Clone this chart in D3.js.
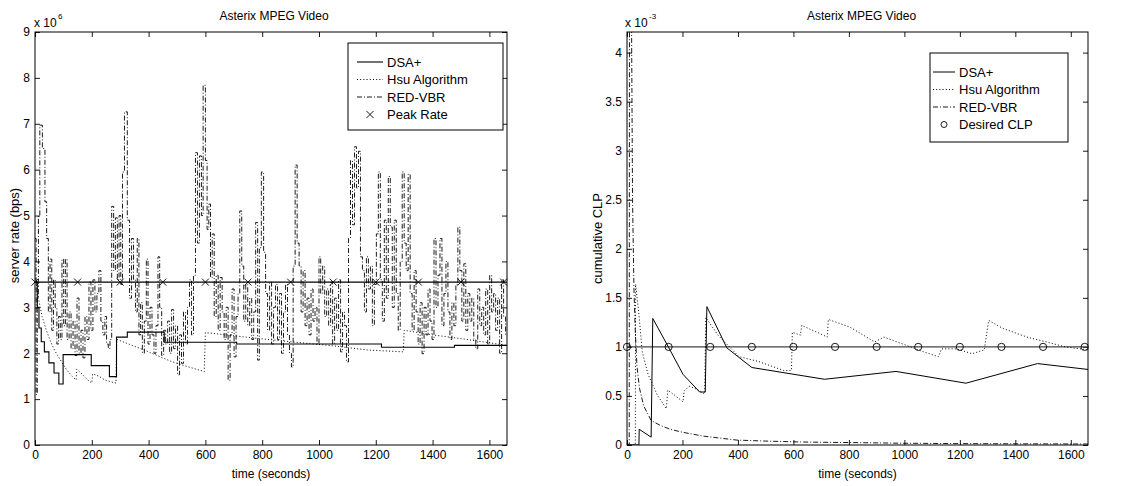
<!DOCTYPE html>
<html><head><meta charset="utf-8">
<script src="https://cdn.jsdelivr.net/npm/d3@7"></script>
<style>
body{margin:0;background:#fff;}
svg text{font-family:"Liberation Sans", Arial, Helvetica, sans-serif; fill:#000;}
</style></head><body>
<svg id="c" width="1140" height="486"></svg>
<script>
// ---------- data ----------
const T_MAX = 1662;
const timeTicks = [0,200,400,600,800,1000,1200,1400,1600];
const rateTicks = [0,1,2,3,4,5,6,7,8,9];
const clpTicks = [0,0.5,1,1.5,2,2.5,3,3.5,4];
const clpTickLabels = ["0","0.5","1","1.5","2","2.5","3","3.5","4"];

// Left panel: server rate, units of 1e6 bps
const dsaRateT = [0,8,14,22,33,49,67,84,99,198,262,287,325,455,710,1220,1477];
const dsaRateV = [3.55,3.0,2.55,2.25,2.03,1.79,1.57,1.33,1.97,1.73,1.49,2.35,2.46,2.24,2.2,2.13,2.17];

const hsuRateT = [0,12,25,40,55,70,90,110,130,145,147,165,185,200,203,225,245,265,285,288,330,380,430,480,530,580,596,600,700,790,900,1052,1170,1297,1300,1400,1521,1662];
const hsuRateV = [3.7,3.2,2.8,2.5,2.25,2.05,1.85,1.65,1.5,1.42,1.65,1.55,1.42,1.35,1.55,1.5,1.42,1.38,1.35,2.3,2.2,2.08,1.95,1.82,1.72,1.63,1.6,2.45,2.38,2.32,2.25,2.16,2.07,2.03,2.5,2.4,2.3,2.17];

const redRateT = [0,4,8,12,17,26,35,41,47,53,59,65,71,77,83,89,95,101,107,113,120,127,134,141,148,155,162,169,176,183,190,197,204,211,218,225,232,239,246,252,258,264,270,277,283,290,296,302,308,315,325,333,340,347,354,360,366,372,378,385,392,398,405,412,419,426,433,439,446,453,460,467,474,481,488,495,502,509,516,523,530,537,544,551,558,565,572,579,586,592,600,606,612,618,624,631,638,645,652,659,666,673,680,687,694,701,708,715,721,728,735,742,749,756,763,770,777,784,790,797,805,812,819,826,833,840,847,854,861,868,875,882,889,896,903,909,916,923,930,937,944,951,958,965,972,979,986,993,1000,1006,1013,1020,1027,1034,1041,1048,1055,1062,1069,1076,1083,1090,1097,1104,1111,1118,1125,1132,1139,1146,1153,1160,1167,1174,1181,1188,1195,1202,1209,1216,1223,1230,1237,1244,1251,1258,1265,1272,1279,1286,1293,1300,1307,1314,1321,1328,1335,1342,1349,1356,1363,1370,1377,1384,1391,1398,1405,1412,1419,1426,1433,1440,1447,1454,1461,1468,1475,1482,1489,1496,1503,1510,1517,1524,1531,1538,1545,1552,1559,1566,1573,1580,1587,1594,1601,1608,1615,1622,1629,1636,1643,1650,1657];
const redRateV = [4.5,1.1,3.2,5.0,6.97,6.46,5.3,4.5,2.9,4.05,2.5,3.6,3.0,2.2,2.8,2.3,4.05,2.6,4.05,2.3,2.9,2.1,2.7,1.95,3.2,2.0,2.5,1.9,2.8,2.3,3.55,2.5,3.6,2.9,3.3,3.8,2.7,2.4,2.8,2.2,2.1,2.3,5.2,3.8,4.95,3.6,5.0,3.5,5.95,7.26,4.9,3.2,4.5,3.6,2.9,4.5,2.4,3.1,2.0,2.7,4.05,2.2,3.0,2.4,2.0,2.6,4.1,3.0,1.95,2.5,2.2,2.7,2.0,2.95,2.1,2.6,1.53,2.4,1.78,2.9,2.2,3.0,3.6,2.4,3.7,6.37,4.4,6.3,5.0,7.84,6.2,4.7,5.25,3.65,4.6,2.8,3.7,2.5,3.65,2.9,2.3,3.0,1.41,2.4,3.4,1.92,2.8,3.3,5.1,3.9,2.7,3.5,2.6,3.2,2.3,2.9,4.85,1.85,4.3,5.95,4.2,3.3,2.5,3.55,2.2,3.0,3.5,2.3,3.3,2.0,2.9,3.5,2.4,2.0,1.7,3.9,6.1,4.4,3.9,2.9,3.8,2.6,3.2,2.4,3.4,2.7,3.0,2.2,4.1,3.3,3.9,2.8,3.4,2.6,3.55,2.2,3.2,2.5,3.6,2.03,2.9,2.6,1.81,4.5,6.2,4.8,6.5,5.6,6.4,4.1,3.8,2.9,4.1,3.4,3.9,2.6,3.5,4.6,5.95,3.6,2.7,4.9,3.2,5.85,4.75,3.0,4.9,3.3,2.5,4.0,5.95,4.4,3.8,5.9,3.3,2.5,3.8,2.9,2.2,3.1,1.99,3.0,2.4,3.4,2.7,2.3,4.5,3.0,3.7,4.5,2.6,3.3,4.0,2.9,2.3,3.1,2.6,3.5,4.75,3.8,2.7,3.95,2.5,3.3,2.7,3.2,2.3,2.1,3.4,2.6,3.0,2.4,3.4,2.2,3.7,2.9,3.3,2.5,3.2,2.0,3.6,2.8,2.4];

const peakRate = 3.55;
const peakMarkT = [0,150,300,450,600,750,900,1050,1200,1350,1500,1650];

// Right panel: cumulative CLP, units of 1e-3
const dsaClpT = [0,43,44,87,93,151,202,262,282,288,360,450,712,970,1222,1480,1662];
const dsaClpV = [0,0,0.16,0.08,1.29,0.99,0.72,0.54,0.54,1.41,0.99,0.79,0.67,0.75,0.63,0.83,0.77];

const hsuClpT = [0,30,31,44,55,76,109,142,147,175,202,206,224,250,280,284,328,404,476,564,593,596,625,630,660,700,722,726,805,893,926,1003,1069,1123,1134,1189,1244,1288,1304,1354,1442,1513,1580,1662];
const hsuClpV = [0,0,1.64,1.3,0.95,0.72,0.51,0.37,0.56,0.5,0.44,0.55,0.6,0.57,0.52,1.3,1.12,0.9,0.85,0.76,0.76,1.15,1.12,1.22,1.18,1.13,1.1,1.28,1.2,1.05,1.1,1.02,0.95,0.9,0.98,0.98,0.93,0.97,1.27,1.19,1.1,1.05,1.0,0.97];

const redClpT = [0,8,9,16,20,25,30,36,45,60,87,120,156,200,276,396,500,636,800,996,1200,1400,1662];
const redClpV = [0,0,4.5,4.5,2.5,1.6,1.15,0.8,0.58,0.4,0.25,0.2,0.16,0.13,0.09,0.05,0.04,0.03,0.025,0.018,0.014,0.012,0.01];

const desiredClp = 1.0;
const desiredMarkT = [0,150,300,450,600,750,900,1050,1200,1350,1500,1650];

// ---------- drawing ----------
const svg = d3.select("#c");
const FS = 12;
const DOT = "1,2.2";
const DASHDOT = "5,2,1,2";

function toPts(T, V, extendTo) {
  const p = T.map((t, i) => [t, V[i]]);
  if (extendTo !== undefined) p.push([extendTo, V[V.length - 1]]);
  return p;
}

function panel(id, box, yMax, yTicks, yLabels) {
  const x = d3.scaleLinear().domain([0, T_MAX]).range([box.x0, box.x1]);
  const y = d3.scaleLinear().domain([0, yMax]).range([box.y1, box.y0]);
  svg.append("clipPath").attr("id", id).append("rect")
    .attr("x", box.x0).attr("y", box.y0).attr("width", box.x1 - box.x0).attr("height", box.y1 - box.y0);
  const g = svg.append("g");
  const fmt = d => yLabels ? yLabels[yTicks.indexOf(d)] : d;
  const ax = [
    [d3.axisBottom(x).tickValues(timeTicks).tickFormat(d3.format("d")), `translate(0,${box.y1})`],
    [d3.axisTop(x).tickValues(timeTicks).tickFormat(""), `translate(0,${box.y0})`],
    [d3.axisLeft(y).tickValues(yTicks).tickFormat(fmt), `translate(${box.x0},0)`],
    [d3.axisRight(y).tickValues(yTicks).tickFormat(""), `translate(${box.x1},0)`]
  ];
  ax.forEach(([a, tr]) => {
    const s = g.append("g").attr("transform", tr)
      .call(a.tickSizeInner(-5).tickSizeOuter(0).tickPadding(5));
    s.select(".domain").remove();
    s.selectAll("line").attr("stroke", "#000").attr("stroke-width", 0.9);
    s.selectAll("text").attr("font-size", FS).attr("font-family", '"Liberation Sans", Arial, sans-serif').attr("fill", "#000");
  });
  g.append("rect").attr("x", box.x0).attr("y", box.y0).attr("width", box.x1 - box.x0).attr("height", box.y1 - box.y0)
    .attr("fill", "none").attr("stroke", "#000").attr("stroke-width", 1);
  const plot = svg.append("g").attr("clip-path", `url(#${id})`);
  return {x, y, plot};
}

function line(p, pts, curve, dash, width, color) {
  const gen = d3.line().x(d => p.x(d[0])).y(d => p.y(d[1])).curve(curve);
  p.plot.append("path").attr("d", gen(pts)).attr("fill", "none")
    .attr("stroke", color || "#000").attr("stroke-width", width || 0.9)
    .attr("stroke-dasharray", dash || null);
}

function xMark(g, cx, cy, s) {
  g.append("path").attr("d", `M${cx - s},${cy - s}L${cx + s},${cy + s}M${cx - s},${cy + s}L${cx + s},${cy - s}`)
    .attr("stroke", "#000").attr("stroke-width", 0.9).attr("fill", "none");
}

// ----- left panel -----
const LB = {x0: 35, x1: 507, y0: 32, y1: 445};
const left = panel("clipL", LB, 9, rateTicks, null);
line(left, toPts(redRateT, redRateV, T_MAX), d3.curveStepAfter, DASHDOT, 0.9);
line(left, toPts(hsuRateT, hsuRateV), d3.curveLinear, DOT, 1);
line(left, toPts(dsaRateT, dsaRateV, T_MAX), d3.curveStepAfter, null, 1.1);
line(left, [[0, peakRate], [T_MAX, peakRate]], d3.curveLinear, null, 1.1);
peakMarkT.forEach(t => xMark(svg, left.x(t), left.y(peakRate), 3.5));

svg.append("text").attr("x", (LB.x0 + LB.x1) / 2 + 3).attr("y", 20).attr("text-anchor", "middle").attr("font-size", FS).text("Asterix MPEG Video");
svg.append("text").attr("x", 34).attr("y", 27).attr("font-size", FS).text("x 10");
svg.append("text").attr("x", 58).attr("y", 19).attr("font-size", 8).text("6");
svg.append("text").attr("transform", `translate(19,${(LB.y0 + LB.y1) / 2 - 3}) rotate(-90)`).attr("text-anchor", "middle").attr("font-size", FS + 1).text("server rate (bps)");
svg.append("text").attr("x", (LB.x0 + LB.x1) / 2).attr("y", 478).attr("text-anchor", "middle").attr("font-size", FS).text("time (seconds)");

// legend left
const lg = {x: 348, y: 43, w: 155, h: 87};
svg.append("rect").attr("x", lg.x).attr("y", lg.y).attr("width", lg.w).attr("height", lg.h).attr("fill", "#fff").attr("stroke", "#000").attr("stroke-width", 1);
const legL = [["DSA+", null, 1.1], ["Hsu Algorithm", DOT, 1], ["RED-VBR", DASHDOT, 0.9], ["Peak Rate", "x", 0]];
legL.forEach((d, i) => {
  const yy = 62 + i * 17.5;
  if (d[1] === "x") xMark(svg, 370, yy, 3.5);
  else svg.append("line").attr("x1", 357).attr("x2", 383).attr("y1", yy).attr("y2", yy).attr("stroke", "#000").attr("stroke-width", d[2]).attr("stroke-dasharray", d[1]);
  svg.append("text").attr("x", 387).attr("y", yy + 4.5).attr("font-size", 13).text(d[0]);
});

// ----- right panel -----
const RB = {x0: 627, x1: 1088, y0: 32, y1: 445};
const right = panel("clipR", RB, 4.21, clpTicks, clpTickLabels);
line(right, [[0, desiredClp], [T_MAX, desiredClp]], d3.curveLinear, null, 1.3, "#444");
line(right, toPts(redClpT, redClpV), d3.curveLinear, DASHDOT, 0.9);
line(right, toPts(hsuClpT, hsuClpV), d3.curveLinear, DOT, 1);
line(right, toPts(dsaClpT, dsaClpV), d3.curveLinear, null, 1);
desiredMarkT.forEach(t => svg.append("circle").attr("cx", right.x(t)).attr("cy", right.y(desiredClp)).attr("r", 3.6)
  .attr("fill", "none").attr("stroke", "#000").attr("stroke-width", 0.9));

svg.append("text").attr("x", (RB.x0 + RB.x1) / 2 + 4).attr("y", 20).attr("text-anchor", "middle").attr("font-size", FS).text("Asterix MPEG Video");
svg.append("text").attr("x", 625).attr("y", 27).attr("font-size", FS).text("x 10");
svg.append("text").attr("x", 649).attr("y", 19).attr("font-size", 8).text("-3");
svg.append("text").attr("transform", `translate(602,${(RB.y0 + RB.y1) / 2}) rotate(-90)`).attr("text-anchor", "middle").attr("font-size", FS + 1).text("cumulative CLP");
svg.append("text").attr("x", (RB.x0 + RB.x1) / 2).attr("y", 478).attr("text-anchor", "middle").attr("font-size", FS).text("time (seconds)");

// legend right
const rg = {x: 930, y: 53, w: 138, h: 89};
svg.append("rect").attr("x", rg.x).attr("y", rg.y).attr("width", rg.w).attr("height", rg.h).attr("fill", "#fff").attr("stroke", "#000").attr("stroke-width", 1);
const legR = [["DSA+", null, 1], ["Hsu Algorithm", DOT, 1], ["RED-VBR", DASHDOT, 0.9], ["Desired CLP", "o", 0]];
legR.forEach((d, i) => {
  const yy = 72 + i * 17.5;
  if (d[1] === "o") svg.append("circle").attr("cx", 944).attr("cy", yy).attr("r", 3).attr("fill", "none").attr("stroke", "#000").attr("stroke-width", 0.9);
  else svg.append("line").attr("x1", 933).attr("x2", 955).attr("y1", yy).attr("y2", yy).attr("stroke", "#000").attr("stroke-width", d[2]).attr("stroke-dasharray", d[1]);
  svg.append("text").attr("x", 959).attr("y", yy + 4.5).attr("font-size", 13).text(d[0]);
});
</script>
</body></html>
